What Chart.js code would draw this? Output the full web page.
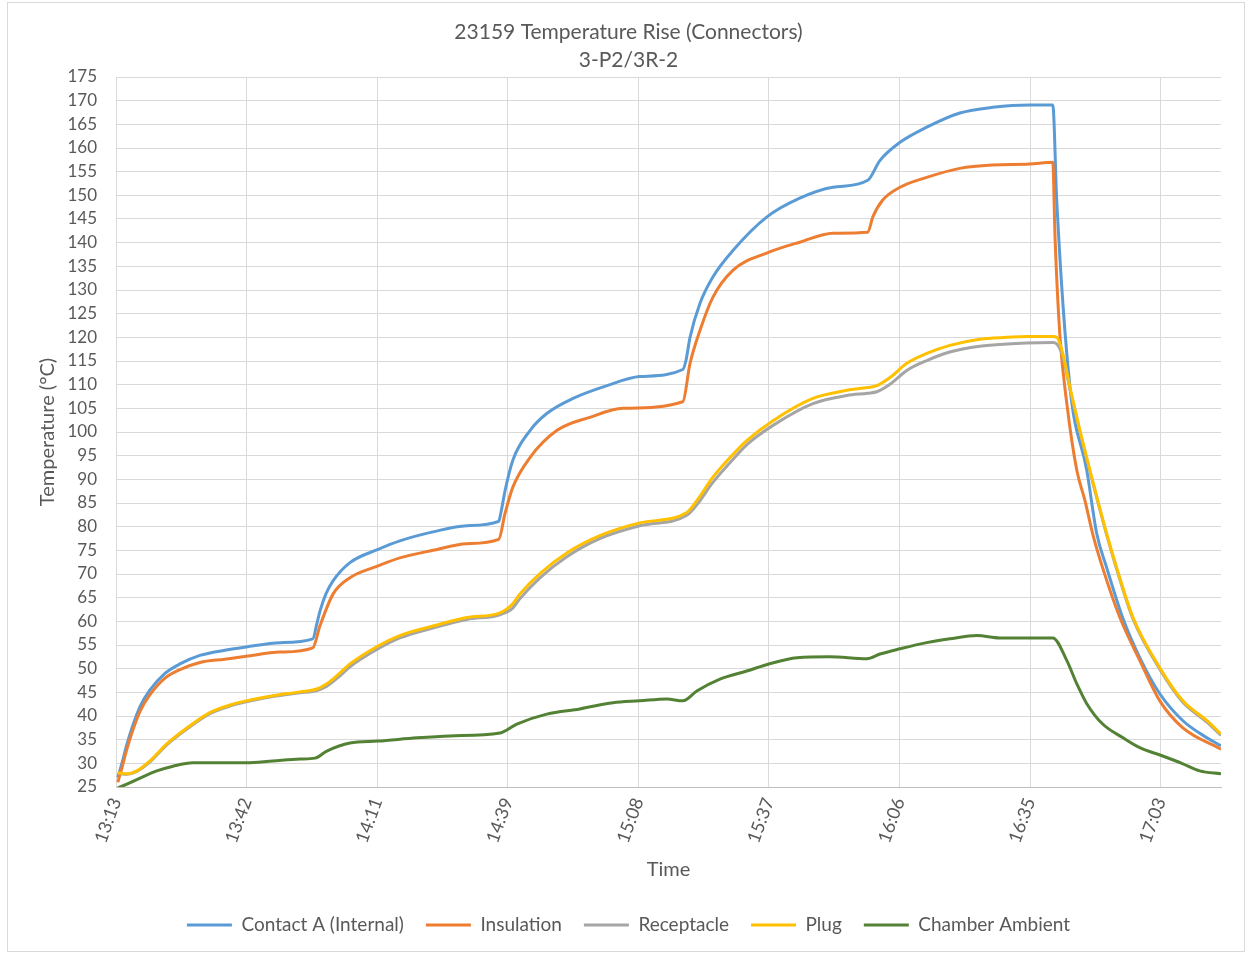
<!DOCTYPE html>
<html>
<head>
<meta charset="utf-8">
<title>23159 Temperature Rise (Connectors)</title>
<script src="https://cdn.jsdelivr.net/npm/chart.js@4.4.1/dist/chart.umd.min.js"></script>
<style>
  html, body { margin: 0; padding: 0; background: #fff; }
  canvas { display: block; }
</style>
</head>
<body>
<canvas id="myChart" width="1252" height="955"></canvas>
<script>
// time is in minutes after 13:13, temperatures in °C
const timeLabels = ["13:13", "13:42", "14:11", "14:39", "15:08", "15:37", "16:06", "16:35", "17:03"];
const labelStep = 28.8; // 0.02 day between time labels

const contactMinutes = [0.4, 1.3, 2.4, 3.7, 5.3, 7.5, 10.8, 14.1, 18.5, 24.0, 28.7, 36.2, 43.4,
  44.3, 45.0, 46.3, 47.9, 51.6, 57.8, 62.6, 69.9, 77.4, 84.4,
  84.9, 85.8, 87.5, 91.3, 95.0, 100.8, 108.3, 115.5, 125.0,
  125.7, 126.6, 128.8, 131.6, 136.1, 143.5, 150.8, 158.1, 165.8,
  168.5, 172.9, 178.8, 186.1, 193.4, 201.5, 206.6,
  207.5, 210.4, 214.1, 216.3, 218.5, 222.0, 225.8, 230.2, 235.3, 240.6, 243.7];
const contactTemps = [27, 30, 34, 38, 42, 45.5, 49, 51, 52.8, 53.9, 54.6, 55.5, 56.3,
  59.5, 62.2, 65.8, 68.6, 72.4, 75.2, 77.0, 78.9, 80.2, 81.1,
  83.0, 87.6, 94.0, 100.3, 103.9, 107.1, 109.8, 111.7, 113.2,
  115.1, 120.0, 127.2, 132.7, 138.4, 145.4, 149.4, 151.7, 153.2,
  157.4, 161.2, 164.4, 167.4, 168.6, 169.1, 169.1,
  148.3, 109.4, 91.9, 78.5, 71.3, 60.8, 52.3, 44.7, 39.0, 35.4, 33.7];

const insulationMinutes = [0.4, 1.3, 2.4, 3.7, 5.3, 7.5, 10.8, 14.1, 18.5, 24.0, 28.7, 36.2, 43.4,
  45.0, 47.9, 51.6, 57.8, 62.6, 69.9, 77.4, 84.4,
  85.8, 87.5, 91.3, 97.2, 104.5, 111.8, 125.0,
  126.6, 128.8, 131.6, 136.1, 143.5, 150.8, 158.1, 165.8,
  166.9, 169.1, 172.9, 178.8, 186.1, 193.4, 201.5, 206.6,
  207.1, 208.2, 209.7, 211.9, 213.7, 215.4, 217.6, 221.4, 225.8, 230.2, 235.3, 243.7];
const insulationTemps = [26, 29, 33, 37, 41, 44.5, 48, 49.8, 51.3, 52.0, 52.6, 53.5, 54.4,
  59.1, 65.8, 69.2, 71.7, 73.4, 75.0, 76.4, 77.3,
  82.8, 88.3, 94.6, 100.3, 103.1, 105.0, 106.4,
  114.5, 121.5, 128.4, 134.2, 137.8, 140.1, 142.0, 142.2,
  145.4, 149.0, 151.7, 153.8, 155.7, 156.4, 156.6, 157.0,
  141.1, 120.0, 106.0, 91.9, 85.5, 78.5, 71.3, 60.8, 51.7, 43.2, 37.5, 33.0];

const plugMinutes = [0.4, 2.4, 4.6, 7.5, 11.2, 15.7, 20.7, 25.8, 28.7, 34.6, 40.6, 44.3, 46.5, 49.4, 51.6, 57.8, 62.6, 69.9, 77.4, 84.7,
  87.5, 89.1, 93.5, 99.5, 106.7, 115.5, 125.9,
  128.1, 131.6, 135.4, 139.1, 144.9, 153.7, 161.2, 165.8,
  167.8, 170.7, 174.4, 178.8, 183.9, 190.5, 196.5, 200.9, 206.6,
  207.5, 208.8, 210.4, 212.6, 215.4, 218.5, 220.7, 224.3, 230.2, 235.3, 240.6, 243.7];
const plugTemps = [28.0, 27.8, 28.4, 30.5, 34.1, 37.5, 40.7, 42.5, 43.2, 44.3, 45.1, 45.7, 46.8, 49.1, 51.0, 54.8, 57.0, 59.0, 60.8, 61.8,
  63.7, 65.8, 70.1, 74.5, 78.1, 80.8, 83.0,
  85.5, 90.4, 94.6, 98.2, 102.4, 107.1, 108.8, 109.4,
  109.8, 111.5, 114.5, 116.6, 118.3, 119.6, 120.0, 120.2, 120.2,
  120.0, 116.6, 109.4, 100.3, 89.7, 78.5, 71.3, 60.8, 50.2, 43.2, 39.0, 36.2];

// receptacle was logged on the same readings as the plug
const receptacleMinutes = plugMinutes;
const receptacleTemps = [27.9, 27.7, 28.3, 30.3, 33.9, 37.3, 40.5, 42.3, 43.0, 44.1, 44.9, 45.4, 46.3, 48.5, 50.4, 54.2, 56.5, 58.6, 60.4, 61.4,
  62.8, 64.8, 69.2, 73.7, 77.5, 80.2, 82.4,
  84.6, 89.3, 93.5, 97.3, 101.4, 106.0, 107.7, 108.2,
  108.5, 110.1, 113.0, 115.1, 116.9, 118.1, 118.6, 118.8, 118.9,
  118.6, 116.0, 109.0, 100.0, 89.4, 78.2, 71.0, 60.5, 49.9, 42.9, 38.7, 35.9];

const ambientMinutes = [0.4, 2.4, 5.3, 9.0, 12.6, 17.0, 22.3, 28.7, 34.6, 40.6, 43.9, 46.5, 51.6, 57.8, 66.4,
  73.7, 84.7, 88.4, 95.0, 102.3, 109.6, 115.5, 121.5, 125.0, 128.1, 133.2, 139.1, 144.0, 150.2, 157.4,
  165.6, 168.5, 172.9, 178.8, 183.9, 189.9, 194.9, 201.5, 206.6, 209.7, 211.9, 214.1, 217.6, 222.1, 225.8,
  230.7, 235.3, 239.0, 243.7];
const ambientTemps = [24.8, 25.6, 26.9, 28.4, 29.4, 30.1, 30.1, 30.1, 30.5, 30.9, 31.1, 32.6, 34.3, 34.7, 35.4,
  35.8, 36.4, 38.3, 40.4, 41.5, 42.8, 43.2, 43.6, 43.2, 45.3, 47.8, 49.5, 51.0, 52.3, 52.5,
  52.1, 53.1, 54.2, 55.5, 56.3, 57.0, 56.5, 56.5, 56.5, 51.7, 46.8, 42.6, 38.3, 35.4, 33.3,
  31.6, 29.9, 28.4, 27.8];

const textColor = "#595959";
const fontFamily = "Lato, 'Open Sans', sans-serif";

function toPoints(minutes, temps) {
  return minutes.map((m, i) => ({ x: m, y: temps[i] }));
}

function series(label, minutes, temps, color, order) {
  return {
    label: label,
    data: toPoints(minutes, temps),
    borderColor: color,
    backgroundColor: color,
    borderWidth: 3,
    pointRadius: 0,
    cubicInterpolationMode: "monotone",
    order: order,
  };
}

// light frame around the whole chart
const chartFrame = {
  id: "chartFrame",
  beforeDraw(chart) {
    const ctx = chart.ctx;
    ctx.save();
    ctx.fillStyle = "#ffffff";
    ctx.fillRect(0, 0, chart.width, chart.height);
    ctx.strokeStyle = "#d9d9d9";
    ctx.lineWidth = 1;
    ctx.strokeRect(7.5, 2.5, 1237, 949);
    ctx.restore();
  },
};

const data = {
  datasets: [
    series("Contact A (Internal)", contactMinutes, contactTemps, "#5B9BD5", 5),
    series("Insulation", insulationMinutes, insulationTemps, "#ED7D31", 4),
    series("Receptacle", receptacleMinutes, receptacleTemps, "#A5A5A5", 3),
    series("Plug", plugMinutes, plugTemps, "#FFC000", 2),
    series("Chamber Ambient", ambientMinutes, ambientTemps, "#548235", 1),
  ],
};

const config = {
  type: "line",
  data: data,
  plugins: [chartFrame],
  options: {
    responsive: false,
    animation: false,
    layout: { padding: { top: 10, left: 36, right: 31, bottom: 10.5 } },
    scales: {
      x: {
        type: "linear",
        min: 0,
        max: 243.7,
        afterFit: (scale) => { scale.height = 106.5; },
        grid: { color: "#d9d9d9", drawTicks: false },
        border: { color: "#bfbfbf", width: 1 },
        ticks: {
          stepSize: labelStep,
          includeBounds: false,
          autoSkip: false,
          maxTicksLimit: 20,
          minRotation: 70,
          maxRotation: 70,
          padding: 8,
          color: textColor,
          font: { family: fontFamily, size: 18 },
          callback: (value) => timeLabels[Math.round(value / labelStep)],
        },
        title: {
          display: true,
          text: "Time",
          color: textColor,
          font: { family: fontFamily, size: 20 },
          padding: { top: 0, bottom: 11.5 },
        },
      },
      y: {
        min: 25,
        max: 175,
        afterFit: (scale) => { scale.width = 80; },
        grid: { color: "#d9d9d9", drawTicks: false },
        border: { color: "#d9d9d9" },
        ticks: {
          stepSize: 5,
          autoSkip: false,
          maxTicksLimit: 40,
          padding: 19,
          color: textColor,
          font: { family: fontFamily, size: 17 },
        },
        title: {
          display: true,
          text: "Temperature (°C)",
          color: textColor,
          font: { family: fontFamily, size: 20 },
          padding: { top: 0, bottom: 0 },
        },
      },
    },
    plugins: {
      title: {
        display: true,
        text: "23159 Temperature Rise (Connectors)",
        color: textColor,
        font: { family: fontFamily, size: 21, weight: "normal" },
        padding: { top: 10, bottom: 1 },
      },
      subtitle: {
        display: true,
        text: "3-P2/3R-2",
        color: textColor,
        font: { family: fontFamily, size: 21, weight: "normal" },
        padding: { top: 1, bottom: 4.6 },
      },
      legend: {
        position: "bottom",
        labels: {
          usePointStyle: true,
          pointStyle: "line",
          pointStyleWidth: 45,
          padding: 22,
          color: textColor,
          font: { family: fontFamily, size: 19 },
          sort: (a, b) => a.datasetIndex - b.datasetIndex,
        },
      },
      tooltip: { enabled: false },
    },
  },
};

const myChart = new Chart(document.getElementById("myChart"), config);
</script>
</body>
</html>
